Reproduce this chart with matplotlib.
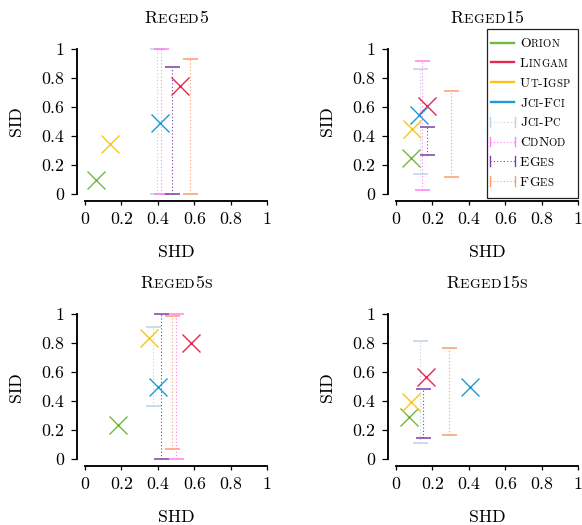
import numpy as np
import matplotlib
matplotlib.use('Agg')
import matplotlib.pyplot as plt
from matplotlib.lines import Line2D
from matplotlib.patches import Rectangle
from matplotlib.transforms import offset_copy
from matplotlib.font_manager import FontProperties, findfont, get_font

plt.rcParams['font.family'] = ['cmr10', 'DejaVu Serif']
plt.rcParams['axes.formatter.use_mathtext'] = True
plt.rcParams['mathtext.fontset'] = 'cm'

# ---------------- data ----------------
datasets = ['Reged5', 'Reged15', 'Reged5s', 'Reged15s']
tick_vals = [0, 0.2, 0.4, 0.6, 0.8, 1]
tick_labels = ['0', '0.2', '0.4', '0.6', '0.8', '1']

# point methods (SHD, SID) per dataset
orion_shd = [0.06, 0.08, 0.18, 0.07]
orion_sid = [0.10, 0.245, 0.24, 0.29]
lingam_shd = [0.52, 0.17, 0.58, 0.165]
lingam_sid = [0.745, 0.605, 0.80, 0.57]
utigsp_shd = [0.14, 0.09, 0.35, 0.08]
utigsp_sid = [0.345, 0.45, 0.835, 0.395]
jcifci_shd = [0.41, 0.125, 0.40, 0.405]
jcifci_sid = [0.49, 0.545, 0.50, 0.50]

# range methods (SHD, SID low, SID high) per dataset
jcipc_shd = [0.397, 0.132, 0.376, 0.132]
jcipc_lo = [0.0, 0.14, 0.37, 0.115]
jcipc_hi = [1.0, 0.865, 0.915, 0.815]
cdnod_shd = [0.415, 0.141, 0.499, np.nan]
cdnod_lo = [0.0, 0.03, 0.0, np.nan]
cdnod_hi = [1.0, 0.92, 1.0, np.nan]
eges_shd = [0.478, 0.172, 0.418, 0.15]
eges_lo = [0.0, 0.27, 0.0, 0.145]
eges_hi = [0.875, 0.465, 1.0, 0.485]
fges_shd = [0.577, 0.30, 0.477, 0.291]
fges_lo = [0.0, 0.12, 0.07, 0.165]
fges_hi = [0.93, 0.71, 0.99, 0.765]

point_methods = [
    ('Orion', '#72b843', orion_shd, orion_sid),
    ('Lingam', '#e8274f', lingam_shd, lingam_sid),
    ('Ut-Igsp', '#fcc419', utigsp_shd, utigsp_sid),
    ('Jci-Fci', '#1f9ad6', jcifci_shd, jcifci_sid),
]
range_methods = [
    ('Jci-Pc', '#bcd3e3', jcipc_shd, jcipc_lo, jcipc_hi),
    ('CdNod', '#ff80f0', cdnod_shd, cdnod_lo, cdnod_hi),
    ('EGes', '#7c3fa6', eges_shd, eges_lo, eges_hi),
    ('FGes', '#ff9a6b', fges_shd, fges_lo, fges_hi),
]

# ---------------- layout ----------------
W, H = 582, 525
DPI = 100
fig = plt.figure(figsize=(W / DPI, H / DPI), dpi=DPI)

_ft = get_font(findfont(FontProperties(family='cmr10')))


def advance(ch, size):
    _ft.set_size(size, DPI)
    g = _ft.load_char(ord(ch))
    return g.linearHoriAdvance / 65536.0


def fx(px):
    return px / W


def fy(py):
    return 1 - py / H


def sc_text(x, y, s, size, ha='center', ratio=0.78, track=0.35, zorder=5):
    """Small-caps text at figure-fraction (x, y), baseline aligned,
    laid out character by character using font advances."""
    chars = []
    for ch in s:
        small = ch.islower()
        sz = size * (ratio if small else 1.0)
        c = ch.upper()
        a = advance(c, sz) + (track if small else 0.0)
        chars.append((c, sz, a))
    total = sum(a for _, _, a in chars)
    off = -total / 2 if ha == 'center' else 0.0
    for c, sz, a in chars:
        fig.text(x, y, c, fontsize=sz, ha='left', va='baseline', zorder=zorder,
                 transform=offset_copy(fig.transFigure, fig=fig, x=off, y=0, units='dots'))
        off += a


ax_px = [(85, 49, 182, 145), (396, 49, 182, 145),
         (85, 314.3, 182, 145), (396, 314.3, 182, 145)]

FS = 12.8
dotted = (0, (1.0, 2.0))

for i, ds in enumerate(datasets):
    l, t, w, h = ax_px[i]
    ax = fig.add_axes([fx(l), fy(t + h), w / W, h / H])
    ax.set_xlim(0, 1)
    ax.set_ylim(0, 1)
    ax.patch.set_visible(False)
    for s in ['top', 'right']:
        ax.spines[s].set_visible(False)
    ax.spines['left'].set_position(('outward', 5.8))
    ax.spines['bottom'].set_position(('outward', 5.0))
    ax.spines['left'].set_bounds(0, 1)
    ax.spines['bottom'].set_bounds(0, 1)
    for s in ['left', 'bottom']:
        ax.spines[s].set_linewidth(1.35)
    ax.set_xticks(tick_vals)
    ax.set_xticklabels(tick_labels)
    ax.set_yticks(tick_vals)
    ax.set_yticklabels(tick_labels)
    ax.tick_params(axis='x', direction='out', length=3.2, width=0.9, labelsize=FS, pad=4.5)
    ax.tick_params(axis='y', direction='out', length=4.5, width=0.9, labelsize=FS, pad=4.5)

    for name, c, xs, los, his in range_methods:
        x, lo, hi = xs[i], los[i], his[i]
        if np.isnan(x):
            continue
        mid = (lo + hi) / 2
        half = (hi - lo) / 2
        eb = ax.errorbar([x], [mid], yerr=[[half], [half]], fmt='none', ecolor=c,
                         elinewidth=0.8, capsize=5.4, capthick=1.1)
        for cap in eb.lines[1]:
            cap.set_clip_on(False)
        for lc in eb.lines[2]:
            lc.set_linestyle(dotted)
            lc.set_clip_on(False)

    for name, c, xs, ys in point_methods:
        ax.plot([xs[i]], [ys[i]], marker='x', ms=13.5, mew=1.0, color=c,
                ls='none', clip_on=False, zorder=4)

    # title, axis labels
    sc_text(fx(l + w / 2), fy(t - 26), ds, FS)
    fig.text(fx(l + w / 2), fy(t + h + 62.7), 'SHD', ha='center', va='baseline', fontsize=FS)
    fig.text(fx(l - 69), fy(t + h / 2), 'SID', ha='center', va='center',
             rotation=90, fontsize=FS)

# ---------------- legend ----------------
bx0, by0, bx1, by1 = 486.5, 29.3, 577.5, 197.7
fig.add_artist(Rectangle((fx(bx0), fy(by1)), (bx1 - bx0) / W, (by1 - by0) / H,
                         transform=fig.transFigure, facecolor='white',
                         edgecolor='#222222', lw=0.9, zorder=3))
LFS = 9.8
row0, drow = 42.7, 19.76
entries = [(n, c, 'line') for n, c, *_ in point_methods] + \
          [(n, c, 'range') for n, c, *_ in range_methods]
for k, (name, c, kind) in enumerate(entries):
    yc = row0 + k * drow
    if kind == 'line':
        fig.add_artist(Line2D([fx(491), fx(514.3)], [fy(yc), fy(yc)], color=c, lw=1.7,
                              transform=fig.transFigure, zorder=4))
    else:
        for xb in (489.5, 514.5):
            fig.add_artist(Line2D([fx(xb), fx(xb)], [fy(yc - 5), fy(yc + 5)], color=c,
                                  lw=1.0, transform=fig.transFigure, zorder=4))
        fig.add_artist(Line2D([fx(489.5), fx(514.5)], [fy(yc), fy(yc)], color=c, lw=0.8,
                              ls=dotted, transform=fig.transFigure, zorder=4))
    sc_text(fx(520), fy(yc + 4.6), name, LFS, ha='left', ratio=0.78, track=0.3, zorder=5)

fig.savefig('out.png', dpi=DPI)
